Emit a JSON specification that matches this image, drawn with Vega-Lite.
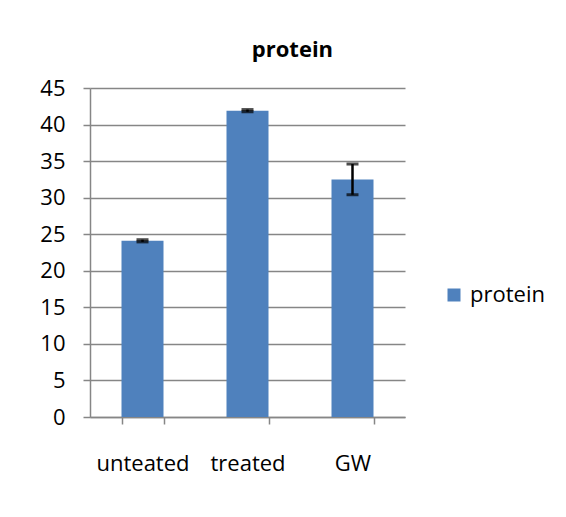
{
  "$schema": "https://vega.github.io/schema/vega-lite/v6.json",
  "width": 315,
  "height": 329,
  "padding": {"left": 39, "top": 39, "right": 5, "bottom": 5},
  "background": "white",
  "title": {"text": "protein", "fontSize": 22, "fontWeight": "bold", "font": "Open Sans", "color": "#000000", "anchor": "middle", "frame": "bounds", "offset": 15},
  "data": {"values": [
    {"group": "unteated", "series": "protein", "value": 24.1, "lo": 23.95, "hi": 24.25},
    {"group": "treated", "series": "protein", "value": 41.9, "lo": 41.75, "hi": 42.05},
    {"group": "GW", "series": "protein", "value": 32.5, "lo": 30.4, "hi": 34.6}
  ]},
  "encoding": {
    "x": {"field": "group", "type": "nominal", "sort": null,
      "scale": {"paddingInner": 0.6, "paddingOuter": 0.3},
      "axis": {"title": null, "labelAngle": 0, "tickBand": "extent", "tickSize": 7, "labelPadding": 29, "labelFontSize": 22, "labelColor": "#000000", "domainColor": "#868686", "tickColor": "#868686", "domainWidth": 1.5, "tickWidth": 1.5, "grid": false}}
  },
  "layer": [
    {
      "mark": {"type": "bar", "color": "#4F81BD"},
      "encoding": {
        "y": {"field": "value", "type": "quantitative",
          "scale": {"domain": [0, 45], "nice": false},
          "axis": {"title": null, "values": [0, 5, 10, 15, 20, 25, 30, 35, 40, 45], "labelOverlap": false, "tickSize": 7, "labelPadding": 18, "labelFontSize": 22, "labelColor": "#000000", "domainColor": "#868686", "tickColor": "#868686", "gridColor": "#868686", "domainWidth": 1.5, "tickWidth": 1.5, "gridWidth": 1.5, "grid": true}},
        "color": {"field": "series", "type": "nominal",
          "scale": {"range": ["#4F81BD"]},
          "legend": {"title": null, "orient": "none", "legendX": 353, "legendY": 196, "symbolType": "square", "symbolSize": 169, "symbolStrokeWidth": 0, "labelFontSize": 22, "labelColor": "#000000", "labelOffset": 5}}
      }
    },
    {
      "mark": {"type": "rule", "color": "#000000", "strokeWidth": 2.5},
      "encoding": {
        "y": {"field": "lo", "type": "quantitative", "scale": {"domain": [0, 45], "nice": false},
          "axis": {"title": null, "values": [0, 5, 10, 15, 20, 25, 30, 35, 40, 45], "labelOverlap": false, "tickSize": 7, "labelPadding": 18, "labelFontSize": 22, "labelColor": "#000000", "domainColor": "#868686", "tickColor": "#868686", "gridColor": "#868686", "domainWidth": 1.5, "tickWidth": 1.5, "gridWidth": 1.5, "grid": true}},
        "y2": {"field": "hi"}
      }
    },
    {
      "mark": {"type": "tick", "color": "#000000", "thickness": 3, "size": 12},
      "encoding": {"y": {"field": "lo", "type": "quantitative", "scale": {"domain": [0, 45], "nice": false},
          "axis": {"title": null, "values": [0, 5, 10, 15, 20, 25, 30, 35, 40, 45], "labelOverlap": false, "tickSize": 7, "labelPadding": 18, "labelFontSize": 22, "labelColor": "#000000", "domainColor": "#868686", "tickColor": "#868686", "gridColor": "#868686", "domainWidth": 1.5, "tickWidth": 1.5, "gridWidth": 1.5, "grid": true}}}
    },
    {
      "mark": {"type": "tick", "color": "#000000", "thickness": 3, "size": 12},
      "encoding": {"y": {"field": "hi", "type": "quantitative", "scale": {"domain": [0, 45], "nice": false},
          "axis": {"title": null, "values": [0, 5, 10, 15, 20, 25, 30, 35, 40, 45], "labelOverlap": false, "tickSize": 7, "labelPadding": 18, "labelFontSize": 22, "labelColor": "#000000", "domainColor": "#868686", "tickColor": "#868686", "gridColor": "#868686", "domainWidth": 1.5, "tickWidth": 1.5, "gridWidth": 1.5, "grid": true}}}
    }
  ],
  "config": {
    "font": "Open Sans",
    "view": {"stroke": null}
  }
}
